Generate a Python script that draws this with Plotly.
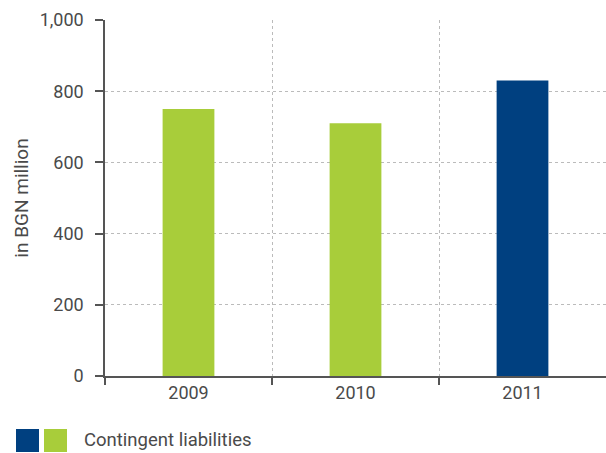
import plotly.graph_objects as go

years = ["2009", "2010", "2011"]
values = [750, 710, 830]
bar_colors = ["#a8cd3a", "#a8cd3a", "#004080"]
y_ticks = [0, 200, 400, 600, 800, 1000]
y_tick_labels = ["0", "200", "400", "600", "800", "1,000"]
legend_label = "Contingent liabilities"

W, H = 606, 453
ML, MR, MT, MB = 105, 0, 20, 77
text_color = "#4a4a4a"
font_family = "Roboto, 'Liberation Sans', Arial, sans-serif"

x_pos = [i + 0.5 for i in range(len(years))]

fig = go.Figure(
    go.Bar(
        x=x_pos,
        y=values,
        width=0.31,
        marker=dict(color=bar_colors, line=dict(width=0)),
        hoverinfo="skip",
    )
)

fig.update_layout(
    width=W,
    height=H,
    margin=dict(l=ML, r=MR, t=MT, b=MB),
    plot_bgcolor="white",
    paper_bgcolor="white",
    showlegend=False,
    font=dict(family=font_family, size=18, color=text_color),
)

fig.update_xaxes(
    range=[0, 3],
    tickvals=x_pos,
    ticktext=years,
    ticks="",
    showgrid=False,
    showline=True,
    linecolor="#555555",
    linewidth=1.5,
    zeroline=False,
    tickfont=dict(size=18, color=text_color),
    minor=dict(
        tickvals=[0, 1, 2],
        ticks="outside",
        ticklen=7,
        tickcolor="#555555",
        tickwidth=1.5,
        showgrid=True,
        gridcolor="#bbbbbb",
        griddash="dot",
        gridwidth=1,
    ),
    fixedrange=True,
)

fig.update_yaxes(
    range=[0, 1000],
    tickvals=y_ticks,
    ticktext=y_tick_labels,
    ticks="outside",
    ticklen=8,
    tickcolor="#555555",
    tickwidth=1.5,
    ticklabelstandoff=8,
    showline=True,
    linecolor="#555555",
    linewidth=1.5,
    showgrid=True,
    gridcolor="#bbbbbb",
    griddash="dot",
    gridwidth=1,
    zeroline=False,
    tickfont=dict(size=18, color=text_color),
    title=dict(text="in BGN million", font=dict(size=19, color=text_color), standoff=6),
    fixedrange=True,
)

pw = W - ML - MR
ph = H - MT - MB


def px_x(px):
    return (px - ML) / pw


def px_y(py):
    return (H - MB - py) / ph


# legend swatches below the chart
for x0, color in [(16, "#004080"), (44, "#a8cd3a")]:
    fig.add_shape(
        type="rect",
        xref="paper",
        yref="paper",
        x0=px_x(x0),
        x1=px_x(x0 + 23),
        y0=px_y(452),
        y1=px_y(429),
        fillcolor=color,
        line=dict(width=0),
    )

fig.add_annotation(
    xref="paper",
    yref="paper",
    x=px_x(82),
    y=px_y(440.5),
    text=legend_label,
    showarrow=False,
    xanchor="left",
    yanchor="middle",
    font=dict(size=18.5, color=text_color),
)

fig.write_html("out.html")
